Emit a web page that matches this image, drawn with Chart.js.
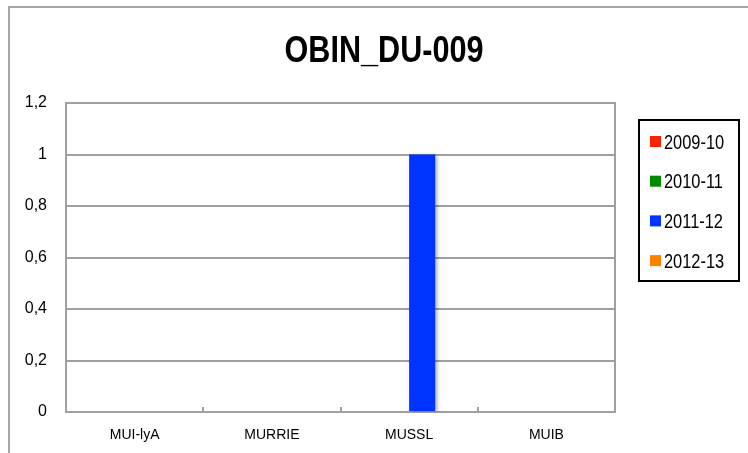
<!DOCTYPE html>
<html><head><meta charset="utf-8">
<script src="https://cdn.jsdelivr.net/npm/chart.js@4"></script>
<style>
html,body{margin:0;padding:0;background:#fff;overflow:hidden;width:748px;height:453px}
#frame{position:absolute;left:8px;top:6px;width:900px;height:600px;border-left:2px solid #a6a6a6;border-top:2px solid #a6a6a6}
#wrap{position:absolute;left:0;top:0;width:748px;height:453px}
</style></head><body>
<div id="frame"></div>
<div id="wrap"><canvas id="c" width="748" height="453"></canvas></div>
<script>
const chartTitle = 'OBIN_DU-009';
const categories = ['MUI-lyA', 'MURRIE', 'MUSSL', 'MUIB'];
const seriesNames = ['2009-10', '2010-11', '2011-12', '2012-13'];
const values2009_10 = [0, 0, 0, 0];
const values2010_11 = [0, 0, 0, 0];
const values2011_12 = [0, 0, 1, 0];
const values2012_13 = [0, 0, 0, 0];
const seriesColors = ['#ff2200', '#008a00', '#0033ff', '#ff8000'];
const yMin = 0, yMax = 1.2, yStep = 0.2;

const FONT = '"Liberation Sans", Arial, sans-serif';
const allValues = [values2009_10, values2010_11, values2011_12, values2012_13];

const frameTitle = {
  id: 'frameTitle',
  afterDraw(chart) {
    const ctx = chart.ctx;
    ctx.save();
    ctx.translate(384, 52);
    ctx.scale(0.85, 1);
    ctx.font = 'bold 36px ' + FONT;
    ctx.fillStyle = '#000';
    ctx.textAlign = 'center';
    ctx.textBaseline = 'middle';
    ctx.fillText(chartTitle, 0, 0);
    ctx.restore();
  }
};
const plotBorder = {
  id: 'plotBorder',
  beforeDatasetsDraw(chart) {
    const a = chart.chartArea, ctx = chart.ctx;
    ctx.save();
    ctx.strokeStyle = '#a0a0a0';
    ctx.lineWidth = 2;
    ctx.strokeRect(a.left, a.top, a.right - a.left, a.bottom - a.top);
    ctx.restore();
    ctx.save();
    ctx.shadowColor = 'rgba(0,0,0,0.35)';
    ctx.shadowBlur = 4;
    ctx.shadowOffsetX = 2;
    ctx.shadowOffsetY = 1;
  },
  afterDatasetsDraw(chart) { chart.ctx.restore(); }
};
const boxLegend = {
  id: 'boxLegend',
  afterDraw(chart) {
    const ctx = chart.ctx;
    ctx.save();
    ctx.strokeStyle = '#000';
    ctx.lineWidth = 2;
    ctx.strokeRect(639, 120, 100, 161);
    chart.data.datasets.forEach((ds, i) => {
      const y = 141 + i * 39.7;
      ctx.fillStyle = ds.backgroundColor;
      ctx.fillRect(650, y - 5, 11, 11);
      ctx.save();
      ctx.translate(664, y + 2);
      ctx.scale(0.82, 1);
      ctx.font = '20px ' + FONT;
      ctx.textBaseline = 'middle';
      ctx.textAlign = 'left';
      ctx.fillStyle = '#000';
      ctx.fillText(ds.label, 0, 0);
      ctx.restore();
    });
    ctx.restore();
  }
};

new Chart(document.getElementById('c'), {
  type: 'bar',
  data: {
    labels: categories,
    datasets: seriesNames.map((n, i) => ({
      label: n,
      data: allValues[i],
      backgroundColor: seriesColors[i],
      borderWidth: 0,
      barPercentage: 1,
      categoryPercentage: 0.76
    }))
  },
  options: {
    responsive: false,
    animation: false,
    layout: { padding: { left: 0, top: 103, right: 133, bottom: 0 } },
    plugins: { legend: { display: false }, title: { display: false }, tooltip: { enabled: false } },
    scales: {
      x: {
        grid: { offset: true, drawOnChartArea: false, drawTicks: true, tickLength: -5, color: '#a0a0a0', lineWidth: 2 },
        border: { display: true, color: '#a0a0a0', width: 2 },
        ticks: { color: '#000', font: { family: FONT, size: 14 }, padding: 20, maxRotation: 0 },
        afterFit(s) { s.height = 41; }
      },
      y: {
        min: yMin, max: yMax,
        ticks: {
          stepSize: yStep, color: '#000', font: { family: FONT, size: 16 }, padding: 19,
          callback: v => String(Math.round(v * 10) / 10).replace('.', ',')
        },
        grid: { color: '#a0a0a0', lineWidth: 2, drawTicks: false },
        border: { display: true, color: '#a0a0a0', width: 2 },
        afterFit(s) { s.width = 66; }
      }
    }
  },
  plugins: [plotBorder, frameTitle, boxLegend]
});
</script>
</body></html>
